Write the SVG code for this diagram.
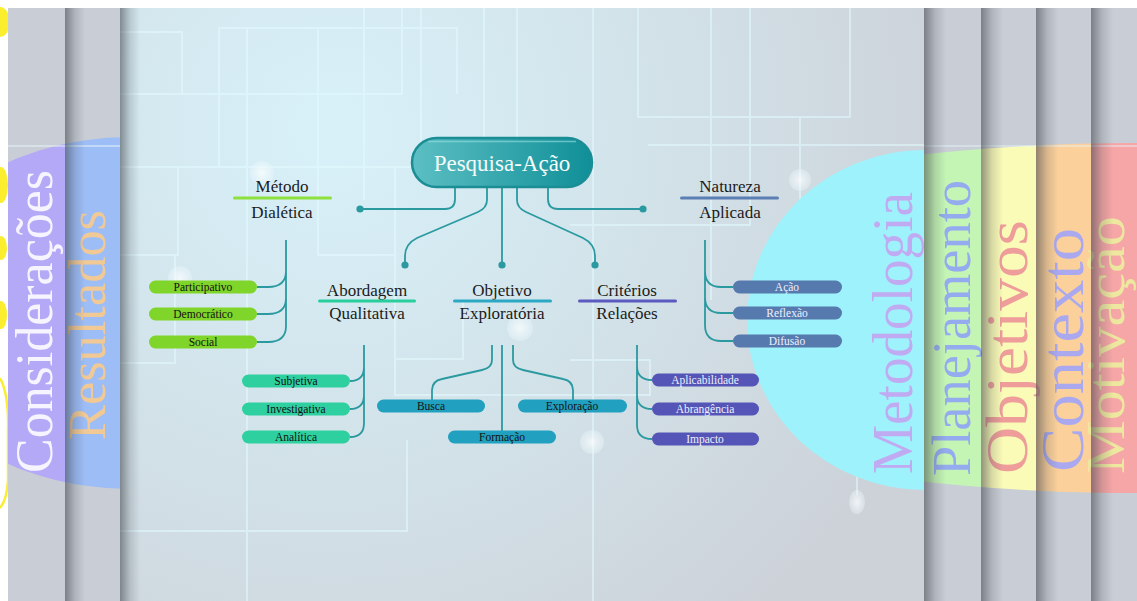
<svg xmlns="http://www.w3.org/2000/svg" width="1137" height="601" viewBox="0 0 1137 601">
<defs>
  <radialGradient id="bg" cx="330" cy="130" r="640" gradientUnits="userSpaceOnUse">
    <stop offset="0" stop-color="#d8f1f9"/>
    <stop offset="0.45" stop-color="#d3e4eb"/>
    <stop offset="1" stop-color="#cdd2d9"/>
  </radialGradient>
  <linearGradient id="shadow" x1="0" y1="0" x2="1" y2="0">
    <stop offset="0" stop-color="#3c4148" stop-opacity="0.55"/>
    <stop offset="0.5" stop-color="#3c4148" stop-opacity="0.18"/>
    <stop offset="1" stop-color="#3c4148" stop-opacity="0"/>
  </linearGradient>
  <linearGradient id="pill" x1="0" y1="0" x2="1" y2="0">
    <stop offset="0" stop-color="#5cbfc3"/>
    <stop offset="1" stop-color="#108f98"/>
  </linearGradient>
  <radialGradient id="glow">
    <stop offset="0" stop-color="#ffffff" stop-opacity="0.75"/>
    <stop offset="1" stop-color="#eaf8fc" stop-opacity="0.35"/>
  </radialGradient>
  <clipPath id="leftBand"><ellipse cx="130" cy="313" rx="237" ry="176"/></clipPath>
  <clipPath id="rightBand"><ellipse cx="1137" cy="318" rx="600" ry="175"/></clipPath>
  <clipPath id="center"><rect x="120" y="8" width="804" height="593"/></clipPath>
</defs>
<style>
  .lbl{font-family:"Liberation Serif","Times New Roman",serif;font-size:17px;fill:#1b1b1b;text-anchor:middle}
  .pt{font-family:"Liberation Serif","Times New Roman",serif;font-size:11.5px;text-anchor:middle}
  .dk{fill:#111}
  .wt{fill:#eef0ff}
  .side{font-family:"Liberation Serif","Times New Roman",serif}
  .conn{fill:none;stroke:#2a9aa0;stroke-width:1.8}
  .dot{fill:#2a9aa0}
  .circ{fill:none;stroke:#e2fbff;stroke-opacity:0.55;stroke-width:2}
  .panel{fill:#c9ced6}
  .shd{fill:url(#shadow)}
</style>

<rect x="0" y="0" width="1137" height="601" fill="#ffffff"/>

<!-- yellow remnants at far left -->
<g fill="#fbee2e">
  <ellipse cx="0" cy="22" rx="10" ry="15"/>
  <ellipse cx="1" cy="185" rx="7" ry="18"/>
  <ellipse cx="1" cy="248" rx="6" ry="12"/>
  <ellipse cx="1" cy="315" rx="6" ry="14"/>
  <path d="M0,378 Q9,395 8,430 L8,480 Q7,500 0,508" fill="none" stroke="#fbee2e" stroke-width="2.5"/>
</g>

<!-- left panels -->
<rect class="panel" x="8" y="8" width="57" height="593"/>
<rect class="panel" x="65" y="8" width="55" height="593"/>
<g clip-path="url(#leftBand)">
  <rect x="8" y="100" width="57" height="420" fill="#b4a9f6"/>
  <rect x="65" y="100" width="55" height="420" fill="#9dbdf7"/>
</g>
<line x1="8" y1="146" x2="120" y2="146" stroke="#e6f4f8" stroke-opacity="0.5" stroke-width="2"/>
<text class="side" transform="translate(52,473) rotate(-90)" font-size="53" textLength="303" lengthAdjust="spacingAndGlyphs" fill="#f6f4ff">Considerações</text>
<text class="side" transform="translate(105,440) rotate(-90)" font-size="52" textLength="230" lengthAdjust="spacingAndGlyphs" fill="#f1c995">Resultados</text>
<rect class="shd" x="65" y="8" width="20" height="593"/>

<!-- central panel -->
<rect x="120" y="8" width="804" height="593" fill="url(#bg)"/>
<g clip-path="url(#center)">
  <path class="circ" d="M120,32 H182 V94 M120,94 H402 V8 M219,28 H457 V94 M219,28 V167 M247,28 V601 M318,28 V255 H395 V167 M364,8 V200 M421,8 V150 M484,8 V140 M517,8 V140 M120,167 H420 M120,255 H178 V167 M120,363 H175 V255 M395,255 V395 H650 V360 H570 M463,300 V359 H395 M593,8 V601 M638,8 V117 H850 V8 M648,145 H924 M711,8 V300 M750,8 V225 H570 M800,117 V260 M120,531 H407 V440 M857,470 V495"/>
  <g fill="url(#glow)">
    <circle cx="262" cy="173" r="12"/>
    <circle cx="180" cy="278" r="12"/>
    <circle cx="520" cy="328" r="13"/>
    <circle cx="592" cy="442" r="12"/>
    <circle cx="800" cy="180" r="11"/>
    <ellipse cx="857" cy="502" rx="8" ry="12"/>
  </g>
  <ellipse cx="925" cy="320" rx="178" ry="170" fill="#9ef2fb"/>
  <text class="side" transform="translate(912,474) rotate(-90)" font-size="56" textLength="282" lengthAdjust="spacingAndGlyphs" fill="#c0abf2">Metodologia</text>
</g>
<rect class="shd" x="120" y="8" width="20" height="593"/>

<!-- right panels -->
<rect class="panel" x="924" y="8" width="57" height="593"/>
<rect class="panel" x="981" y="8" width="55" height="593"/>
<rect class="panel" x="1036" y="8" width="55" height="593"/>
<rect class="panel" x="1091" y="8" width="46" height="593"/>
<g clip-path="url(#rightBand)">
  <rect x="924" y="100" width="57" height="420" fill="#c4f5b5"/>
  <rect x="981" y="100" width="55" height="420" fill="#fafbb7"/>
  <rect x="1036" y="100" width="55" height="420" fill="#fbd09b"/>
  <rect x="1091" y="100" width="46" height="420" fill="#f6a6a6"/>
</g>
<line x1="924" y1="146" x2="1137" y2="146" stroke="#e6f4f8" stroke-opacity="0.45" stroke-width="2"/>
<text class="side" transform="translate(970,476) rotate(-90)" font-size="55" textLength="296" lengthAdjust="spacingAndGlyphs" fill="#94abef">Planejamento</text>
<text class="side" transform="translate(1027,474) rotate(-90)" font-size="60" textLength="254" lengthAdjust="spacingAndGlyphs" fill="#ee9d9a">Objetivos</text>
<text class="side" transform="translate(1083,472) rotate(-90)" font-size="62" textLength="244" lengthAdjust="spacingAndGlyphs" fill="#aaa9f0">Contexto</text>
<text class="side" transform="translate(1124,474) rotate(-90)" font-size="54" textLength="258" lengthAdjust="spacingAndGlyphs" fill="#ede79f">Motivação</text>
<rect class="shd" x="924" y="8" width="22" height="593"/>
<rect class="shd" x="981" y="8" width="22" height="593"/>
<rect class="shd" x="1036" y="8" width="22" height="593"/>
<rect class="shd" x="1091" y="8" width="22" height="593"/>

<!-- connectors -->
<g id="connectors">
  <path class="conn" d="M455,187 V199 Q455,209 445,209 H360"/>
  <path class="conn" d="M548,187 V199 Q548,209 558,209 H643"/>
  <path class="conn" d="M487,187 V200 Q487,208 478,212 L417,238 Q405,244 405,256 V265"/>
  <path class="conn" d="M502,187 V265"/>
  <path class="conn" d="M517,187 V200 Q517,208 526,212 L583,238 Q595,244 595,256 V265"/>
  <circle class="dot" cx="360" cy="209" r="3.6"/>
  <circle class="dot" cx="643" cy="209" r="3.6"/>
  <circle class="dot" cx="405" cy="265" r="3.6"/>
  <circle class="dot" cx="502" cy="265" r="3.6"/>
  <circle class="dot" cx="595" cy="265" r="3.6"/>
  <path class="conn" d="M286,240 V326 M286,271 Q286,287 268,287 H257 M286,298 Q286,314 268,314 H257 M286,326 Q286,342 268,342 H257"/>
  <path class="conn" d="M364,345 V423 M364,367 Q364,381 350,381 M364,395 Q364,409 350,409 M364,423 Q364,437 350,437"/>
  <path class="conn" d="M492,345 V360 Q492,368 482,370 L442,379 Q432,381 432,390 V400"/>
  <path class="conn" d="M502,345 V431"/>
  <path class="conn" d="M513,345 V360 Q513,368 523,370 L563,379 Q573,381 573,390 V400"/>
  <path class="conn" d="M637,345 V425 M637,366 Q637,380 652,380 M637,395 Q637,409 652,409 M637,425 Q637,439 652,439"/>
  <path class="conn" d="M705,240 V325 M705,271 Q705,287 721,287 H733 M705,297 Q705,313 721,313 H733 M705,325 Q705,341 721,341 H733"/>
</g>

<!-- central node -->
<g id="pesquisa-acao">
  <rect x="412" y="138" width="180" height="49" rx="24.5" fill="url(#pill)" stroke="#1b8d95" stroke-width="2.5"/>
  <path d="M428,141.5 H576" stroke="#9be0e3" stroke-opacity="0.6" stroke-width="1.5" fill="none"/>
  <text x="502" y="171" font-family="Liberation Serif, Times New Roman, serif" font-size="23" fill="#f4fbfb" text-anchor="middle">Pesquisa-Ação</text>
</g>

<g id="metodo">
  <text class="lbl" x="282" y="192">Método</text>
  <rect x="233" y="196.5" width="99" height="3" rx="1.5" fill="#8ee03c"/>
  <text class="lbl" x="282" y="218">Dialética</text>
</g>
<g id="natureza">
  <text class="lbl" x="730" y="192">Natureza</text>
  <rect x="680" y="196.5" width="99" height="3" rx="1.5" fill="#5b7fb3"/>
  <text class="lbl" x="730" y="218">Aplicada</text>
</g>
<g id="abordagem">
  <text class="lbl" x="367" y="296">Abordagem</text>
  <rect x="318" y="299.5" width="98" height="3" rx="1.5" fill="#28cf9c"/>
  <text class="lbl" x="367" y="319">Qualitativa</text>
</g>
<g id="objetivo">
  <text class="lbl" x="502" y="296">Objetivo</text>
  <rect x="453" y="299.5" width="99" height="3" rx="1.5" fill="#2aa8c4"/>
  <text class="lbl" x="502" y="319">Exploratória</text>
</g>
<g id="criterios">
  <text class="lbl" x="627" y="296">Critérios</text>
  <rect x="578" y="299.5" width="99" height="3" rx="1.5" fill="#5a5ac0"/>
  <text class="lbl" x="627" y="319">Relações</text>
</g>

<g id="participativo"><rect x="149" y="280.5" width="108" height="13" rx="6.5" fill="#80d52a"/><text class="pt dk" x="203" y="291">Participativo</text></g>
<g id="democratico"><rect x="149" y="307.5" width="108" height="13" rx="6.5" fill="#80d52a"/><text class="pt dk" x="203" y="318">Democrático</text></g>
<g id="social"><rect x="149" y="335.5" width="108" height="13" rx="6.5" fill="#80d52a"/><text class="pt dk" x="203" y="346">Social</text></g>

<g id="subjetiva"><rect x="242" y="374.5" width="108" height="13" rx="6.5" fill="#2ed09f"/><text class="pt dk" x="296" y="385">Subjetiva</text></g>
<g id="investigativa"><rect x="242" y="402.5" width="108" height="13" rx="6.5" fill="#2ed09f"/><text class="pt dk" x="296" y="413">Investigativa</text></g>
<g id="analitica"><rect x="242" y="430.5" width="108" height="13" rx="6.5" fill="#2ed09f"/><text class="pt dk" x="296" y="441">Analítica</text></g>

<g id="busca"><rect x="377" y="399.5" width="108" height="13" rx="6.5" fill="#22a0bf"/><text class="pt dk" x="431" y="410">Busca</text></g>
<g id="exploracao"><rect x="518" y="399.5" width="109" height="13" rx="6.5" fill="#22a0bf"/><text class="pt dk" x="572" y="410">Exploração</text></g>
<g id="formacao"><rect x="448" y="430.5" width="108" height="13" rx="6.5" fill="#22a0bf"/><text class="pt dk" x="502" y="441">Formação</text></g>

<g id="aplicabilidade"><rect x="652" y="373.5" width="107" height="13" rx="6.5" fill="#5455b6"/><text class="pt wt" x="705" y="384">Aplicabilidade</text></g>
<g id="abrangencia"><rect x="652" y="402.5" width="107" height="13" rx="6.5" fill="#5455b6"/><text class="pt wt" x="705" y="413">Abrangência</text></g>
<g id="impacto"><rect x="652" y="432.5" width="107" height="13" rx="6.5" fill="#5455b6"/><text class="pt wt" x="705" y="443">Impacto</text></g>

<g id="acao"><rect x="733" y="280.5" width="109" height="13" rx="6.5" fill="#5679ae"/><text class="pt wt" x="787" y="291">Ação</text></g>
<g id="reflexao"><rect x="733" y="306.5" width="109" height="13" rx="6.5" fill="#5679ae"/><text class="pt wt" x="787" y="317">Reflexão</text></g>
<g id="difusao"><rect x="733" y="334.5" width="109" height="13" rx="6.5" fill="#5679ae"/><text class="pt wt" x="787" y="345">Difusão</text></g>
</svg>
